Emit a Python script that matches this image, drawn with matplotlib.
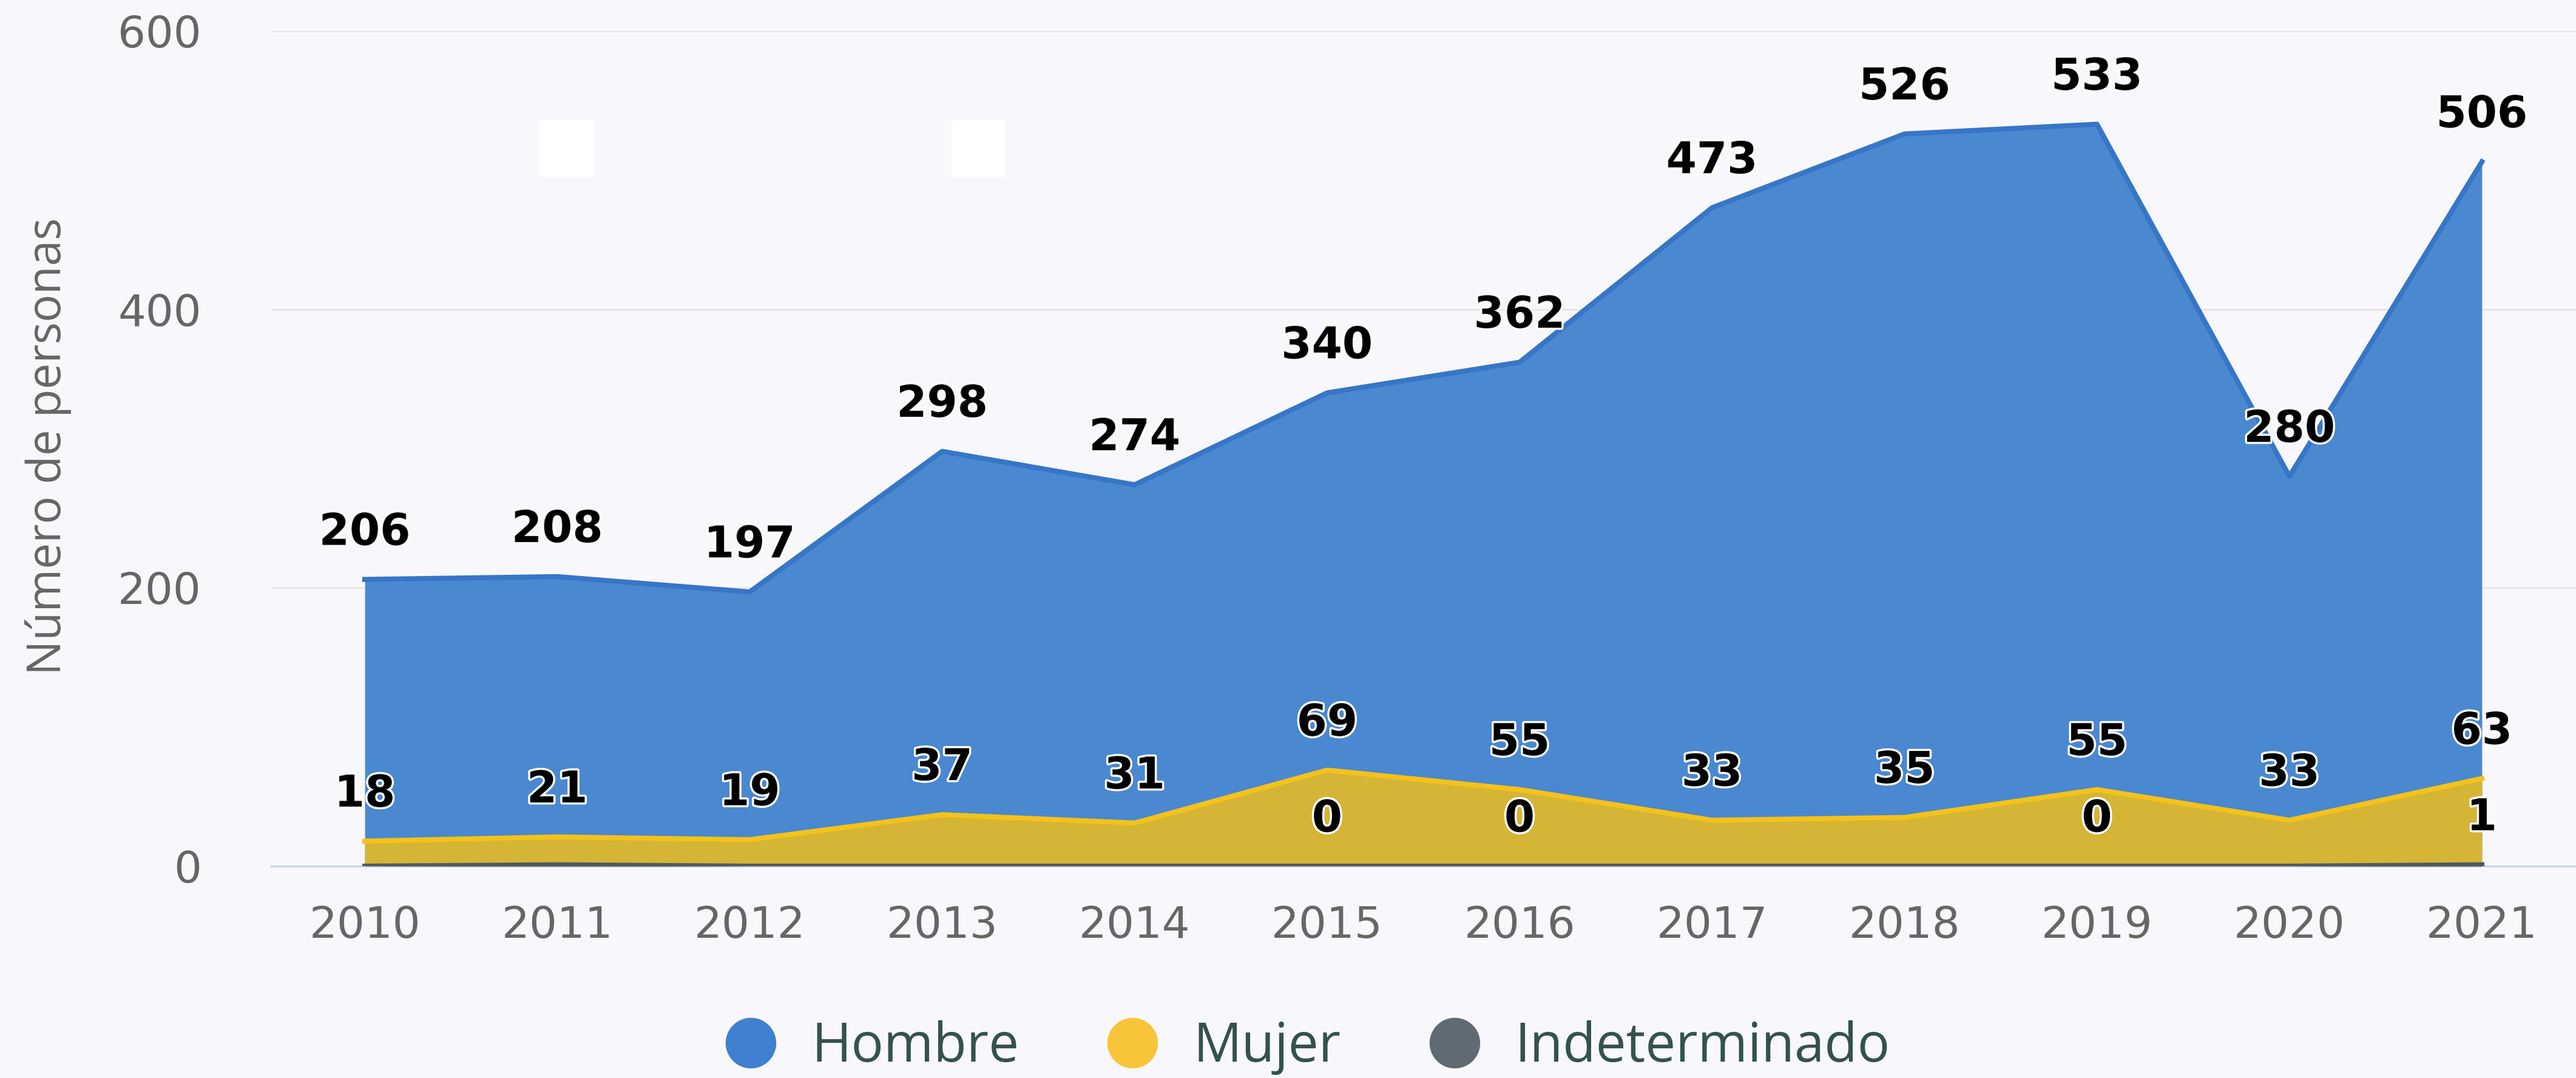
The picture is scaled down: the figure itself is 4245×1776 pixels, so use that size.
import numpy as np
import matplotlib.pyplot as plt
import matplotlib.patheffects as pe
from matplotlib.lines import Line2D
from matplotlib.patches import Rectangle

years = [2010, 2011, 2012, 2013, 2014, 2015, 2016, 2017, 2018, 2019, 2020, 2021]
hombre = [206, 208, 197, 298, 274, 340, 362, 473, 526, 533, 280, 506]
mujer = [18, 21, 19, 37, 31, 69, 55, 33, 35, 55, 33, 63]
indeterminado = [0, 1, 0, 0, 0, 0, 0, 0, 0, 0, 0, 1]
series_names = ['Hombre', 'Mujer', 'Indeterminado']
yticks = [0, 200, 400, 600]

bg = '#f8f8fc'
blue_fill, blue_line = '#4a88d0', '#3776c6'
yellow_fill, yellow_line = '#d4b536', '#f4c21a'
gray_fill, gray_line = '#58626a', '#505a60'
legend_colors = ['#3f80d0', '#f8c53a', '#5f6a72']

fig = plt.figure(figsize=(42.45, 17.76), dpi=100, facecolor=bg)
ax = fig.add_axes([0.1053, 0.1965, 0.8947, 0.7748])
ax.set_facecolor(bg)

# light boxes left behind by hidden labels
for x0 in (years[1] - 0.09, years[3] + 0.05):
    ax.add_patch(Rectangle((x0, 495), 0.28, 41, facecolor='white', lw=0, zorder=1))

# overlapping (not stacked) areas
ax.fill_between(years, hombre, color=blue_fill, lw=0, zorder=2)
ax.plot(years, hombre, color=blue_line, lw=6, zorder=3, solid_joinstyle='round')
ax.fill_between(years, mujer, color=yellow_fill, lw=0, zorder=4)
ax.plot(years, mujer, color=yellow_line, lw=6, zorder=5, solid_joinstyle='round')
ax.fill_between(years, indeterminado, color=gray_fill, lw=0, zorder=6)
ax.plot(years, indeterminado, color=gray_line, lw=6, zorder=7)

outline = [pe.withStroke(linewidth=5, foreground='white')]

def put_label(x, v):
    ax.annotate(str(v), (x, v), xytext=(0, 55), textcoords='offset points',
                ha='center', va='center', fontsize=52, fontweight='bold',
                family='DejaVu Sans', color='black', path_effects=outline,
                zorder=10, annotation_clip=False)

for x, h, m, i in zip(years, hombre, mujer, indeterminado):
    put_label(x, h)
    put_label(x, m)
    # the bottom label only fits when the Mujer label sits high enough
    if m > 50:
        put_label(x, i)

ax.set_xlim(2009.514, 2021.489)
ax.set_ylim(0, 600)
ax.set_xticks(years)
ax.set_yticks(yticks)
ax.grid(axis='y', color='#e6e6e6', lw=2)
ax.set_axisbelow(True)
for s in ['left', 'top', 'right']:
    ax.spines[s].set_visible(False)
ax.spines['bottom'].set_color('#ccd6eb')
ax.spines['bottom'].set_linewidth(2.5)
ax.spines['bottom'].set_zorder(1)
ax.tick_params(axis='x', length=0, pad=46, labelsize=52, labelcolor='#666666')
ax.tick_params(axis='y', length=0, pad=83, labelsize=52, labelcolor='#666666')

fig.text(80 / 4245, 1 - 735 / 1776, 'Número de personas', rotation=90,
         ha='center', va='center', fontsize=55, family='Open Sans', color='#666666')

handles = [Line2D([], [], ls='', marker='o', markersize=59, markerfacecolor=c,
                  markeredgecolor=c) for c in legend_colors]
fig.legend(handles, series_names, loc='center', bbox_to_anchor=(2155 / 4245, 1 - 1726 / 1776),
           ncol=3, frameon=False, prop={'family': 'Open Sans', 'size': 64},
           labelcolor='#34524b', handlelength=0.95, handletextpad=0.65, columnspacing=1.63)

fig.savefig('out.png', dpi=100, facecolor=bg)
